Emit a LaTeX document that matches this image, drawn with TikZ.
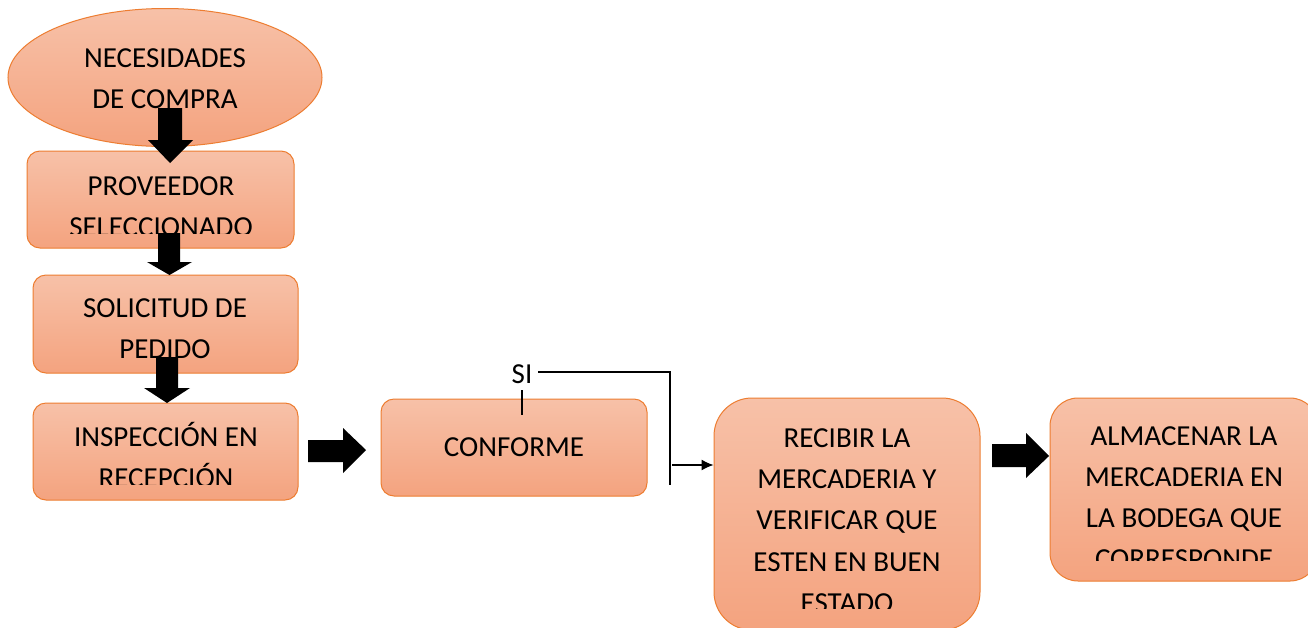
\documentclass[tikz,border=0pt]{standalone}
\usepackage{fontspec}
\setmainfont{Carlito}
\usetikzlibrary{arrows.meta,shapes.geometric}
\definecolor{bordo}{RGB}{237,125,49}
\definecolor{topc}{RGB}{247,193,168}
\definecolor{botc}{RGB}{244,163,127}
\tikzset{
 box/.style={draw=bordo, line width=1pt, top color=topc, bottom color=botc, inner sep=0pt},
 txt/.style={font=\fontsize{29}{41.3}\selectfont, align=center, inner sep=0pt, anchor=base},
 blk/.style={fill=black},
 conn/.style={line width=1.2pt, draw=black}
}
\begin{document}
\begin{tikzpicture}[x=1pt,y=-1pt]
\clip (0,0) rectangle (1308,627);
\fill[white] (0,0) rectangle (1308,627);
% boxes
\node[box, ellipse, minimum width=314pt, minimum height=138pt] (nec) at (165,77.5) {};
\node[box, rounded corners=13pt, minimum width=267pt, minimum height=97pt] (prov) at (160.5,199.5) {};
\node[box, rounded corners=13pt, minimum width=265pt, minimum height=98pt] (soli) at (165.5,324) {};
\node[box, rounded corners=13pt, minimum width=265pt, minimum height=97pt] (insp) at (165.5,451.5) {};
\node[box, rounded corners=13pt, minimum width=266pt, minimum height=97pt] (conf) at (514,447.5) {};
\node[box, rounded corners=38pt, minimum width=266pt, minimum height=232pt] (reci) at (847,514) {};
\node[box, rounded corners=28pt, minimum width=268pt, minimum height=183pt] (alma) at (1184,489.5) {};
% texts (anchor=base is the baseline of the last line)
\node[txt] (tnec) at (165,108.5) {NECESIDADES\\DE COMPRA};
\begin{scope}
\clip (20,150) rectangle (300,233);
\node[txt] (tprov) at (161,236.3) {PROVEEDOR\\SELECCIONADO};
\end{scope}
\node[txt] (tsoli) at (165,358.5) {SOLICITUD DE\\PEDIDO};
\begin{scope}
\clip (20,400) rectangle (300,484);
\node[txt] (tinsp) at (166,487.5) {INSPECCIÓN EN\\RECEPCIÓN};
\end{scope}
\node[txt] (tconf) at (514,456) {CONFORME};
\begin{scope}
\clip (714,398) rectangle (980,608);
\node[txt] (treci) at (847,612.5) {RECIBIR LA\\MERCADERIA Y\\VERIFICAR QUE\\ESTEN EN BUEN\\ESTADO};
\end{scope}
\begin{scope}
\clip (1050,398) rectangle (1318,560);
\node[txt] (talma) at (1184,568.9) {ALMACENAR LA\\MERCADERIA EN\\LA BODEGA QUE\\CORRESPONDE};
\end{scope}
\node[txt] (si) at (522,383) {SI};
% block arrows
\fill[blk] (158,108) -- (182,108) -- (182,140) -- (193,140) -- (170,163) -- (148,140) -- (158,140) -- cycle;
\fill[blk] (158,233) -- (180,233) -- (180,262) -- (192,262) -- (169.5,275) -- (147,262) -- (158,262) -- cycle;
\fill[blk] (156,357) -- (178,357) -- (178,388) -- (190,388) -- (167,403) -- (144,388) -- (156,388) -- cycle;
\fill[blk] (308,440) -- (343,440) -- (343,428) -- (366,450) -- (343,473) -- (343,462) -- (308,462) -- cycle;
\fill[blk] (992,444) -- (1026,444) -- (1026,433) -- (1049,456) -- (1026,478) -- (1026,467) -- (992,467) -- cycle;
% connectors
\coordinate (s1) at (538,372);
\coordinate (c1) at (670,372);
\coordinate (c2) at (670,485);
\coordinate (s2) at (522,390);
\coordinate (s3) at (522,415);
\coordinate (a1) at (672,465);
\draw[conn] (s1) -- (c1) -- (c2);
\draw[conn] (s2) -- (s3);
\draw[conn,-{Latex[length=12pt,width=11pt]}] (a1) -- (a1 -| reci.west);
\end{tikzpicture}
\end{document}
